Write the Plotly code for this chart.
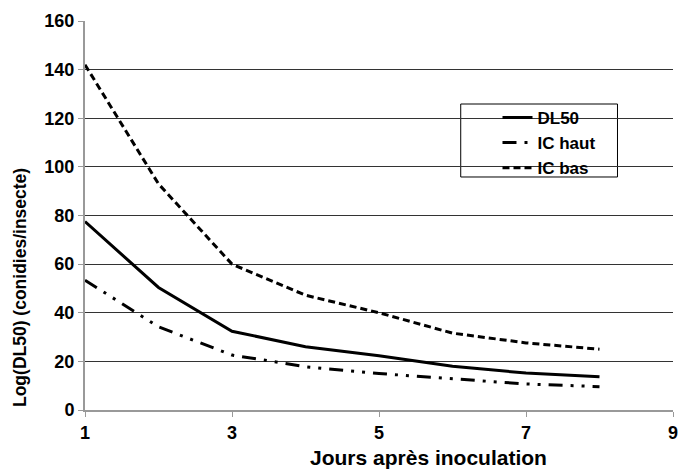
import plotly.graph_objects as go

days = [1, 2, 3, 4, 5, 6, 7, 8]
dl50 = [77.5, 50.4, 32.4, 26, 22.3, 18, 15.2, 13.7]
ic_haut = [53.4, 34.2, 22.6, 17.8, 15, 13, 10.7, 9.6]
ic_bas = [142, 93, 60, 47.2, 40, 31.6, 27.6, 25]
x_ticks = [1, 3, 5, 7, 9]
y_ticks = [0, 20, 40, 60, 80, 100, 120, 140, 160]

font = "Liberation Sans, Arial, sans-serif"

fig = go.Figure()
fig.add_trace(go.Scatter(x=days, y=dl50, mode="lines", name="DL50",
                         line=dict(color="black", width=3)))
fig.add_trace(go.Scatter(x=days, y=ic_haut, mode="lines", name="IC haut",
                         line=dict(color="black", width=3, dash="14px,8px,3px,8px,3px,8px")))
fig.add_trace(go.Scatter(x=days, y=ic_bas, mode="lines", name="IC bas",
                         line=dict(color="black", width=3, dash="7px,4px")))

fig.update_layout(
    width=686, height=471,
    margin=dict(l=85, r=8, t=21, b=61),
    paper_bgcolor="white", plot_bgcolor="white",
    font=dict(family=font, color="black"),
    showlegend=True,
    legend=dict(x=(501 - 85) / 593, y=0.797, xanchor="left", yanchor="top",
                bgcolor="rgba(0,0,0,0)", borderwidth=0,
                font=dict(size=17, family=font, weight="bold"),
                tracegroupgap=0),
    shapes=[dict(type="rect", xref="paper", yref="paper",
                 x0=0.639, x1=0.9056, y0=0.599, y1=0.7866,
                 fillcolor="white", line=dict(color="black", width=1),
                 layer="between")],
    xaxis=dict(range=[1, 9], tickvals=x_ticks, ticks="outside", ticklen=5,
               tickcolor="#999999", showgrid=False, showline=True, linecolor="#999999",
               linewidth=2, zeroline=False,
               tickfont=dict(size=18, family=font, weight="bold")),
    yaxis=dict(range=[0, 160], tickvals=y_ticks, ticks="outside", ticklen=5,
               tickcolor="#999999", showgrid=True, gridcolor="#333333", gridwidth=1,
               showline=True, linecolor="#999999", linewidth=2, zeroline=False,
               tickfont=dict(size=18, family=font, weight="bold")),
    annotations=[
        dict(text="Jours après inoculation", xref="paper", yref="paper",
             x=0.585, y=-0.123, xanchor="center", yanchor="middle", showarrow=False,
             font=dict(size=21, family=font, weight="bold")),
        dict(text="Log(DL50) (conidies/insecte)", xref="paper", yref="paper",
             x=-0.1096, y=0.315, xanchor="center", yanchor="middle", showarrow=False,
             textangle=-90, font=dict(size=17.5, family=font, weight="bold")),
    ],
)

fig.write_html("out.html")
